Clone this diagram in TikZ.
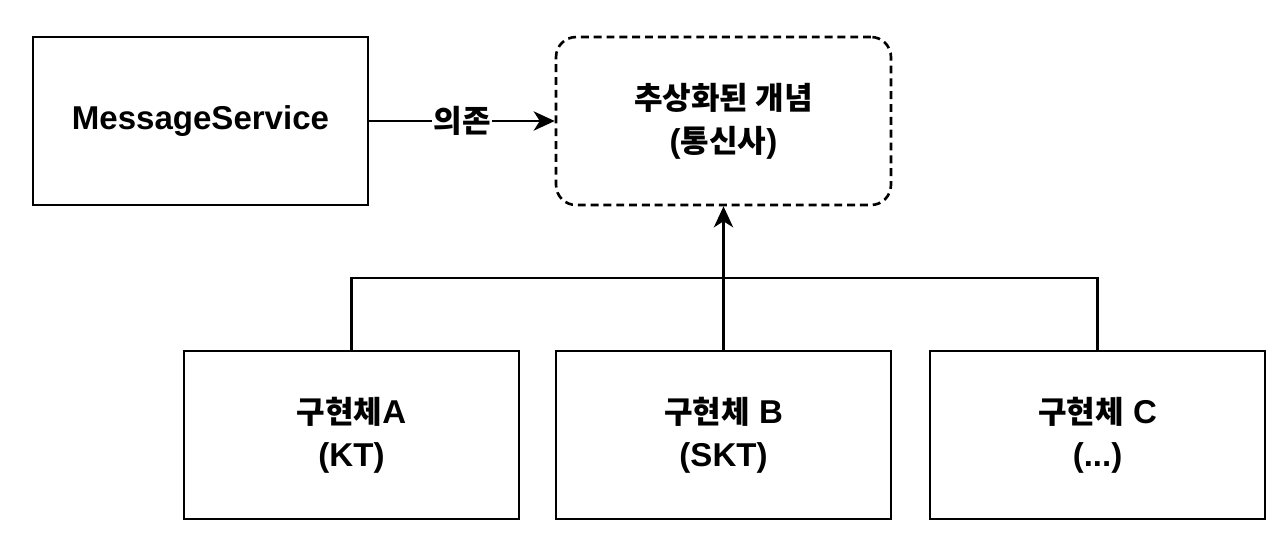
\documentclass[tikz,border=0pt]{standalone}
\usepackage{fontspec}
\setmainfont{Liberation Sans}
\newfontfamily\kr[Scale=0.94]{Noto Sans CJK KR}
\usetikzlibrary{arrows.meta}
\tikzset{
  box/.style={draw,line width=1.5pt,minimum width=6.7cm,minimum height=3.36cm,
    align=center,font=\fontsize{18.8}{24.4}\selectfont\bfseries},
  absbox/.style={box,rounded corners=0.4cm,dash pattern=on 4.5pt off 2.8pt},
  link/.style={line width=1.2pt},
  dep/.style={link,-{Stealth[length=12pt,width=11pt,inset=3.5pt]}}
}
\begin{document}
\begin{tikzpicture}[x=0.02cm,y=-0.02cm]
\useasboundingbox (0,0) rectangle (1280,542);
\node[box] (msg) at (200.5,121) {MessageService};
\node[absbox] (abs) at (723.5,121) {{\kr 추상화된 개념}\\({\kr 통신사})};

\node[box] (implA) at (351.5,435) {{\kr 구현체}A\\(KT)};
\node[box] (implB) at (723.5,435) {{\kr 구현체} B\\(SKT)};
\node[box] (implC) at (1097.5,435) {{\kr 구현체} C\\(...)};

\draw[dep] (msg) -- node[fill=white,inner sep=1pt,font=\fontsize{18.8}{24.4}\selectfont\bfseries] (deplabel) {\kr 의존} (abs);

\coordinate (bus) at (723.5,278);
\draw[link] (implA.north) |- (bus) -| (implC.north);
\draw[dep] (implB.north) -- (abs.south);
\end{tikzpicture}
\end{document}
